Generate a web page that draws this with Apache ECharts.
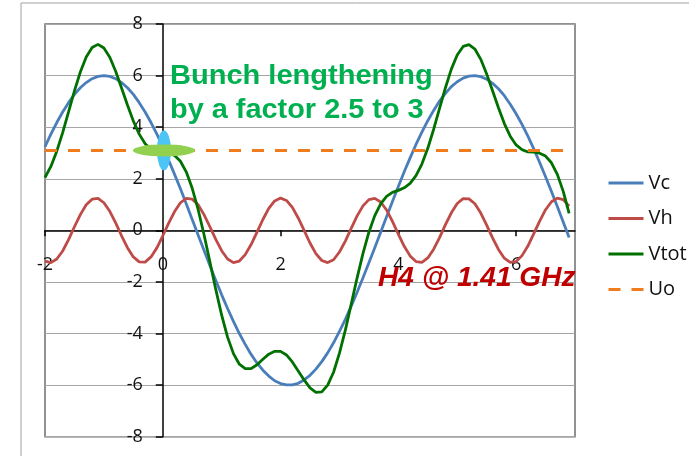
<!DOCTYPE html>
<html><head><meta charset="utf-8">
<script src="https://cdn.jsdelivr.net/npm/echarts@6/dist/echarts.min.js"></script>
<style>html,body{margin:0;padding:0;background:#fff}#c{width:689px;height:456px}</style>
</head><body><div id="c"></div>
<script>
const xValues=[-2,-1.9,-1.8,-1.7,-1.6,-1.5,-1.4,-1.3,-1.2,-1.1,-1,-0.9,-0.8,-0.7,-0.6,-0.5,-0.4,-0.3,-0.2,-0.1,0,0.1,0.2,0.3,0.4,0.5,0.6,0.7,0.8,0.9,1,1.1,1.2,1.3,1.4,1.5,1.6,1.7,1.8,1.9,2,2.1,2.2,2.3,2.4,2.5,2.6,2.7,2.8,2.9,3,3.1,3.2,3.3,3.4,3.5,3.6,3.7,3.8,3.9,4,4.1,4.2,4.3,4.4,4.5,4.6,4.7,4.8,4.9,5,5.1,5.2,5.3,5.4,5.5,5.6,5.7,5.8,5.9,6,6.1,6.2,6.3,6.4,6.5,6.6,6.7,6.8,6.9];
const vc=[3.24,3.73,4.18,4.59,4.95,5.27,5.53,5.73,5.88,5.97,
6.00,5.97,5.88,5.73,5.53,5.27,4.95,4.59,4.18,3.73,
3.24,2.72,2.17,1.61,1.02,0.42,-0.18,-0.77,-1.36,-1.94,
-2.50,-3.03,-3.53,-4.00,-4.42,-4.81,-5.14,-5.42,-5.65,-5.83,
-5.94,-5.99,-5.99,-5.93,-5.80,-5.62,-5.38,-5.09,-4.75,-4.36,
-3.92,-3.45,-2.94,-2.40,-1.84,-1.26,-0.67,-0.07,0.53,1.12,
1.70,2.27,2.81,3.33,3.81,4.25,4.65,5.01,5.31,5.57,
5.76,5.90,5.98,6.00,5.96,5.86,5.70,5.49,5.22,4.89,
4.52,4.11,3.65,3.16,2.63,2.08,1.51,0.92,0.32,-0.28];
const vh=[-1.19,-1.25,-1.11,-0.80,-0.36,0.14,0.61,0.99,1.21,1.24,
1.07,0.74,0.29,-0.21,-0.67,-1.03,-1.22,-1.23,-1.03,-0.68,
-0.21,0.28,0.73,1.07,1.24,1.21,0.99,0.61,0.14,-0.35,
-0.79,-1.11,-1.25,-1.19,-0.94,-0.55,-0.07,0.42,0.85,1.14,
1.25,1.16,0.89,0.48,0.00,-0.49,-0.90,-1.17,-1.25,-1.14,
-0.84,-0.42,0.08,0.56,0.95,1.19,1.24,1.10,0.79,0.35,
-0.15,-0.62,-0.99,-1.21,-1.24,-1.07,-0.73,-0.28,0.22,0.68,
1.04,1.23,1.22,1.03,0.67,0.20,-0.29,-0.74,-1.08,-1.24,
-1.21,-0.98,-0.61,-0.13,0.36,0.80,1.11,1.25,1.19,0.94];
const vtot=[2.05,2.48,3.07,3.79,4.59,5.41,6.14,6.72,7.09,7.21,
7.07,6.71,6.17,5.52,4.86,4.24,3.73,3.36,3.15,3.05,
3.03,3.00,2.90,2.68,2.26,1.63,0.81,-0.16,-1.22,-2.29,
-3.29,-4.14,-4.78,-5.19,-5.36,-5.36,-5.21,-5.00,-4.80,-4.69,
-4.69,-4.83,-5.10,-5.45,-5.80,-6.11,-6.28,-6.26,-6.00,-5.50,
-4.76,-3.87,-2.86,-1.84,-0.89,-0.07,0.57,1.03,1.32,1.47,
1.55,1.65,1.82,2.12,2.57,3.18,3.92,4.73,5.53,6.25,
6.80,7.13,7.20,7.03,6.63,6.06,5.41,4.75,4.14,3.65,
3.31,3.13,3.04,3.03,2.99,2.88,2.62,2.17,1.51,0.66];
const uoX=[-2,6.9];
const uoValue=3.1;
const bunchPoint=[0.02,3.1];
const seriesNames=['Vc','Vh','Vtot','Uo'];
const annotation1=['Bunch lengthening','by a factor 2.5 to 3'];
const annotation2='H4 @ 1.41 GHz';

const toPairs=arr=>xValues.map((x,i)=>[x,arr[i]]);
const GRID={left:45,top:24,right:114,bottom:19.3};
const W=689,H=456;
const X_MIN=-2,X_MAX=7,Y_MIN=-8,Y_MAX=8;
const gw=W-GRID.left-GRID.right, gh=H-GRID.top-GRID.bottom;
// move the axes so that they cross at (0,0), like the original
const yAxisOffset=-(0-X_MIN)/(X_MAX-X_MIN)*gw;
const xAxisOffset=-(0-Y_MIN)/(Y_MAX-Y_MIN)*gh;
const uoDash=[12,11];
const chart=echarts.init(document.getElementById('c'),null,{renderer:'canvas'});
const tickFont={fontSize:18,fontFamily:'Open Sans',color:'#111'};
const LW=2.8;
chart.setOption({
  animation:false,
  grid:Object.assign({show:true,borderColor:'#6E6E6E',borderWidth:1.5,containLabel:false},GRID),
  xAxis:{type:'value',min:X_MIN,max:X_MAX,interval:2,position:'bottom',offset:xAxisOffset,
    axisLine:{onZero:false,lineStyle:{color:'#000',width:1.5}},
    axisTick:{show:true,length:6,lineStyle:{color:'#000',width:1.5}},
    axisLabel:Object.assign({margin:26,showMaxLabel:false},tickFont),
    splitLine:{show:false}},
  yAxis:{type:'value',min:Y_MIN,max:Y_MAX,interval:2,position:'left',offset:yAxisOffset,
    axisLine:{onZero:false,lineStyle:{color:'#000',width:1.5}},
    axisTick:{show:true,length:7,lineStyle:{color:'#000',width:1.5}},
    axisLabel:Object.assign({margin:20},tickFont),
    splitLine:{show:true,lineStyle:{color:'#A6A6A6',width:1}}},
  legend:{data:[{name:'Vc'},{name:'Vh'},{name:'Vtot'},{name:'Uo',lineStyle:{type:uoDash}}],
    orient:'vertical',left:602,top:168,itemWidth:35,itemHeight:14,itemGap:15.5,
    itemStyle:{opacity:0},lineStyle:{width:3},
    textStyle:{fontSize:20,fontFamily:'Open Sans',color:'#111',lineHeight:20}},
  graphic:[
    {type:'rect',shape:{x:21,y:3,width:720,height:520},style:{fill:'none',stroke:'#A0A0A0',lineWidth:1},z:-1},
    {type:'text',x:170,y:76.5,scaleX:1.075,z:100,style:{text:annotation1[0],x:0,y:0,font:'bold 27px "Liberation Sans"',fill:'#00B050',verticalAlign:'middle',align:'left'}},
    {type:'text',x:170,y:110.5,scaleX:1.07,z:100,style:{text:annotation1[1],x:0,y:0,font:'bold 27px "Liberation Sans"',fill:'#00B050',verticalAlign:'middle',align:'left'}},
    {type:'text',x:378,y:279,scaleX:1.04,z:100,style:{text:annotation2,x:0,y:0,font:'italic bold 27px "Liberation Sans"',fill:'#C00000',verticalAlign:'middle',align:'left'}}
  ],
  series:[
    {name:'Vc',type:'line',data:toPairs(vc),symbol:'none',lineStyle:{color:'#4A7EBB',width:LW},itemStyle:{color:'#4A7EBB'},z:2},
    {name:'Vh',type:'line',data:toPairs(vh),symbol:'none',lineStyle:{color:'#BE4B48',width:LW},itemStyle:{color:'#BE4B48'},z:3},
    {name:'Vtot',type:'line',data:toPairs(vtot),symbol:'none',lineStyle:{color:'#007100',width:LW},itemStyle:{color:'#007100'},z:4},
    {name:'Uo',type:'line',data:uoX.map(x=>[x,uoValue]),symbol:'none',lineStyle:{color:'#F07C1E',width:3,type:uoDash},itemStyle:{color:'#F07C1E'},z:5},
    {name:'cyanEllipse',type:'scatter',data:[bunchPoint],symbol:'circle',symbolSize:[14,40],itemStyle:{color:'#4CC4F5',opacity:1},silent:true,z:6},
    {name:'greenEllipse',type:'scatter',data:[bunchPoint],symbol:'circle',symbolSize:[62,12],itemStyle:{color:'#92D050',opacity:1},silent:true,z:7}
  ]
});
</script></body></html>
